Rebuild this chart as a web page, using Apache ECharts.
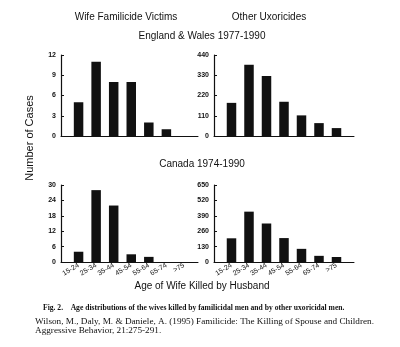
<!DOCTYPE html>
<html>
<head>
<meta charset="utf-8">
<script src="https://cdn.jsdelivr.net/npm/echarts@6/dist/echarts.min.js"></script>
<style>
  html, body { margin: 0; padding: 0; background: #fff; }
  #chart { width: 400px; height: 347px; }
</style>
</head>
<body>
<div id="chart"></div>
<script>
// Age groups of the wife (x categories)
const ageGroups = ['15-24', '25-34', '35-44', '45-54', '55-64', '65-74', '>75'];

// England & Wales 1977-1990
const ewFamilicide = [5, 11, 8, 8, 2, 1, 0];
const ewOther = [180, 387, 326, 186, 112, 70, 43];

// Canada 1974-1990
const caFamilicide = [4, 28, 22, 3, 2, 0, 0];
const caOther = [200, 425, 325, 202, 111, 52, 42];

// y-axis scales: [max, interval]
const yScaleEwFam = [12, 3];
const yScaleEwOther = [440, 110];
const yScaleCaFam = [30, 6];
const yScaleCaOther = [650, 130];

const SANS = '"Liberation Sans", Arial, Helvetica, sans-serif';
const SERIF = '"Liberation Serif", "Times New Roman", serif';
const INK = '#111';

// bars sit at x = 1..7 on a numeric axis
function toPoints(values) {
  return values.map((v, i) => [i + 1, v]);
}

function xAxis(gridIndex, max, showLabels) {
  return {
    type: 'value', gridIndex, min: 0, max, interval: 1,
    splitLine: { show: false },
    axisTick: { show: false },
    axisLine: { show: true, onZero: false, lineStyle: { color: INK, width: 1 } },
    axisLabel: {
      show: showLabels, rotate: 30, margin: 3,
      fontFamily: SANS, fontSize: 7, color: INK,
      formatter: v => (Number.isInteger(v) && v >= 1 && v <= ageGroups.length) ? ageGroups[v - 1] : ''
    }
  };
}

function yAxis(gridIndex, scale) {
  return {
    type: 'value', gridIndex, min: 0, max: scale[0], interval: scale[1],
    splitLine: { show: false },
    axisLine: { show: true, lineStyle: { color: INK, width: 1.2 } },
    axisTick: { show: true, inside: true, length: 3, lineStyle: { color: INK } },
    axisLabel: { fontFamily: SANS, fontSize: 7, fontWeight: 'bold', color: INK, margin: 5 }
  };
}

function bars(idx, values) {
  return {
    type: 'bar', xAxisIndex: idx, yAxisIndex: idx,
    data: toPoints(values), barWidth: 9.5,
    itemStyle: { color: INK }, silent: true, animation: false
  };
}

const chart = echarts.init(document.getElementById('chart'), null, { renderer: 'canvas' });

chart.setOption({
  backgroundColor: '#fff',
  animation: false,
  grid: [
    { left: 61, top: 55, width: 137, height: 81 },
    { left: 214, top: 55, width: 140, height: 81 },
    { left: 61, top: 185, width: 137, height: 77 },
    { left: 214, top: 185, width: 140, height: 77 }
  ],
  xAxis: [
    xAxis(0, 7.8, false),
    xAxis(1, 8, false),
    xAxis(2, 7.8, true),
    xAxis(3, 8, true)
  ],
  yAxis: [
    yAxis(0, yScaleEwFam),
    yAxis(1, yScaleEwOther),
    yAxis(2, yScaleCaFam),
    yAxis(3, yScaleCaOther)
  ],
  series: [
    bars(0, ewFamilicide),
    bars(1, ewOther),
    bars(2, caFamilicide),
    bars(3, caOther)
  ],
  graphic: [
    { type: 'text', x: 126, y: 12, style: { text: 'Wife Familicide Victims', fontFamily: SANS, fontSize: 10, fill: INK, textAlign: 'center' } },
    { type: 'text', x: 269, y: 12, style: { text: 'Other Uxoricides', fontFamily: SANS, fontSize: 10, fill: INK, textAlign: 'center' } },
    { type: 'text', x: 202, y: 31, style: { text: 'England & Wales 1977-1990', fontFamily: SANS, fontSize: 10, fill: INK, textAlign: 'center' } },
    { type: 'text', x: 202, y: 159, style: { text: 'Canada 1974-1990', fontFamily: SANS, fontSize: 10, fill: INK, textAlign: 'center' } },
    { type: 'text', x: 30, y: 138, rotation: Math.PI / 2, style: { text: 'Number of Cases', fontFamily: SANS, fontSize: 11, fill: INK, textAlign: 'center', textVerticalAlign: 'middle' } },
    { type: 'text', x: 202, y: 281, style: { text: 'Age of Wife Killed by Husband', fontFamily: SANS, fontSize: 10, fill: INK, textAlign: 'center' } },
    { type: 'text', x: 43, y: 304, style: { text: 'Fig. 2.    Age distributions of the wives killed by familicidal men and by other uxoricidal men.', fontFamily: SERIF, fontSize: 7.6, fontWeight: 'bold', fill: INK } },
    { type: 'text', x: 35, y: 317, style: { text: 'Wilson, M., Daly, M. & Daniele, A. (1995) Familicide: The Killing of Spouse and Children.', fontFamily: SERIF, fontSize: 9.2, fill: INK } },
    { type: 'text', x: 35, y: 326, style: { text: 'Aggressive Behavior, 21:275-291.', fontFamily: SERIF, fontSize: 9.2, fill: INK } }
  ]
});
</script>
</body>
</html>
